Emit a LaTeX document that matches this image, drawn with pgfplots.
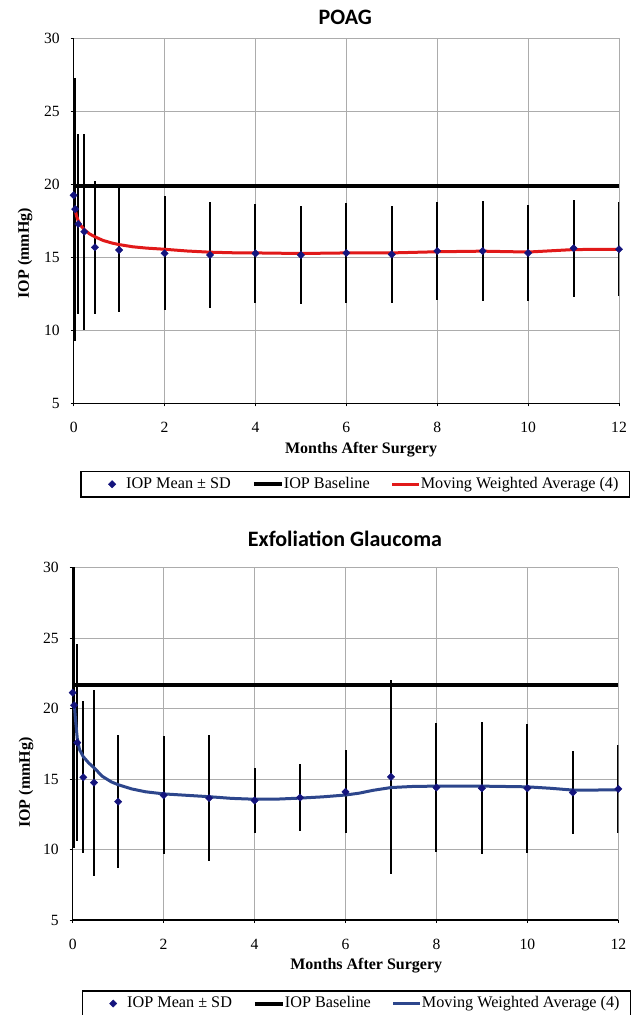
\documentclass[border=0pt]{standalone}
\usepackage{fontspec}
\setmainfont{Liberation Serif}
\newfontfamily\titlefont{Carlito}
\usepackage{pgfplots}
\pgfplotsset{compat=1.18}
\usepackage{pgfplotstable}

\definecolor{mkblue}{RGB}{20,20,125}
\definecolor{avgred}{RGB}{225,25,25}
\definecolor{avgblue}{RGB}{45,70,140}

\pgfplotstableread{
x y e
0 19.25 5.2
0.033 18.3 9.0
0.1 17.28 6.15
0.233 16.75 6.7
0.467 15.68 4.55
1 15.5 4.27
2 15.27 3.9
3 15.16 3.6
4 15.27 3.4
5 15.16 3.37
6 15.3 3.45
7 15.2 3.3
8 15.43 3.33
9 15.43 3.44
10 15.3 3.28
11 15.62 3.33
12 15.55 3.23
}\poagdata

\pgfplotstableread{
x y
0.035 18.25
0.06 17.85
0.1 17.5
0.15 17.2
0.23 16.9
0.35 16.6
0.47 16.4
0.65 16.15
0.85 15.97
1 15.87
1.3 15.72
1.6 15.63
2 15.55
2.5 15.43
3 15.35
3.5 15.31
4 15.3
5 15.26
6 15.3
7 15.3
8 15.38
9 15.42
10 15.36
11 15.53
12 15.55
}\poagavg

\pgfplotstableread{
x y e
0 21.13 8.3
0.033 20.24 10.1
0.1 17.59 7.0
0.233 15.13 5.4
0.467 14.75 6.6
1 13.4 4.7
2 13.85 4.2
3 13.65 4.45
4 13.48 2.3
5 13.69 2.4
6 14.09 2.95
7 15.16 6.9
8 14.4 4.6
9 14.35 4.67
10 14.35 4.58
11 14.05 2.93
12 14.3 3.1
}\exfdata

\pgfplotstableread{
x y
0.035 20.3
0.06 19.3
0.1 17.9
0.15 17.1
0.23 16.6
0.35 16.15
0.47 15.8
0.65 15.2
0.85 14.8
1 14.6
1.3 14.3
1.6 14.1
2 13.95
2.5 13.85
3 13.75
3.5 13.63
4 13.57
4.5 13.58
5 13.65
5.5 13.74
6 13.87
6.3 14.0
6.6 14.2
7 14.4
7.5 14.48
8 14.5
9 14.5
10 14.45
10.5 14.35
11 14.22
12 14.23
}\exfavg

\pgfplotsset{
  ioax/.style={
    scale only axis,
    xmin=0, xmax=12, ymin=5, ymax=30,
    xtick={0,2,...,12}, ytick={5,10,...,30},
    grid=major,
    major grid style={gray!65, line width=0.5pt},
    axis x line*=bottom, axis y line*=left,
    axis line style={black, line width=0.6pt, -},
    tick align=outside, major tick length=1.5pt,
    tick style={black, line width=0.5pt},
    ticklabel style={font=\fontsize{7.8}{9}\selectfont},
    /pgf/number format/assume math mode=true,
    xticklabel shift=4.5pt, yticklabel shift=2pt,
    xlabel={Months After Surgery}, ylabel={IOP (mmHg)},
    label style={font=\bfseries\fontsize{8}{9.5}\selectfont},
    legend columns=3,
    legend cell align=left,
    legend style={draw=black, line width=0.7pt, anchor=north,
      font=\fontsize{8.1}{9.5}\selectfont,
      /tikz/every even column/.append style={column sep=10.5pt},
      inner xsep=5.5pt, inner ysep=1.2pt,
      nodes={inner xsep=0pt, inner ysep=1.6pt}},
  },
  errplot/.style={only marks, mark=square*, mark size=1.3pt, color=mkblue,
    mark options={fill=mkblue, draw=mkblue, line width=0.2pt, rotate=45},
    legend image code/.code={\path[draw=none] (0pt,0pt) -- (17pt,0pt);
      \draw[##1, draw=none] plot coordinates {(10pt,0pt)};},
    error bars/y dir=both, error bars/y explicit,
    error bars/error bar style={black, line width=1pt},
    error bars/error mark=none},
  lineleg/.style={legend image code/.code={\draw[##1] (0pt,0pt) -- (#1,0pt);}},
}

\begin{document}
\begin{tikzpicture}
\path[use as bounding box] (0,0) rectangle (319pt,-507.5pt);

\begin{axis}[ioax,
  at={(36.85pt,-19.15pt)}, anchor=north west,
  width=272.65pt, height=182.5pt,
  title={POAG},
  title style={at={(axis description cs:0.498,1.0365)}, anchor=base, yshift=-6pt,
    font=\titlefont\bfseries\fontsize{11}{13}\selectfont},
  xlabel style={at={(axis description cs:0.527,-0.128)}, anchor=center},
  ylabel style={at={(axis description cs:-0.0893,0.411)}, anchor=center},
  legend style={at={(axis description cs:0.5164,-0.185)}},
]
\addplot[errplot] table[x=x, y=y, y error=e] {\poagdata};
\addlegendentry{IOP Mean ± SD}
\addplot[black, line width=2pt, lineleg=14pt] coordinates {(0,19.88) (12,19.88)};
\addlegendentry{IOP Baseline}
\addplot[avgred, line width=1.5pt, lineleg=13.5pt] table[x=x, y=y] {\poagavg};
\addlegendentry{Moving Weighted Average (4)}
\end{axis}

\begin{axis}[ioax,
  at={(36.35pt,-283.85pt)}, anchor=north west,
  width=272.8pt, height=176.15pt,
  title={Exfoliation Glaucoma},
  title style={at={(axis description cs:0.499,1.0616)}, anchor=base, yshift=-6pt,
    font=\titlefont\bfseries\fontsize{11}{13}\selectfont},
  xlabel style={at={(axis description cs:0.538,-0.129)}, anchor=center},
  ylabel style={at={(axis description cs:-0.0856,0.39)}, anchor=center},
  legend style={at={(axis description cs:0.52,-0.199)}},
]
\addplot[errplot] table[x=x, y=y, y error=e] {\exfdata};
\addlegendentry{IOP Mean ± SD}
\addplot[black, line width=2pt, lineleg=14pt] coordinates {(0,21.68) (12,21.68)};
\addlegendentry{IOP Baseline}
\addplot[avgblue, line width=1.5pt, lineleg=13.5pt] table[x=x, y=y] {\exfavg};
\addlegendentry{Moving Weighted Average (4)}
\end{axis}
\end{tikzpicture}
\end{document}
